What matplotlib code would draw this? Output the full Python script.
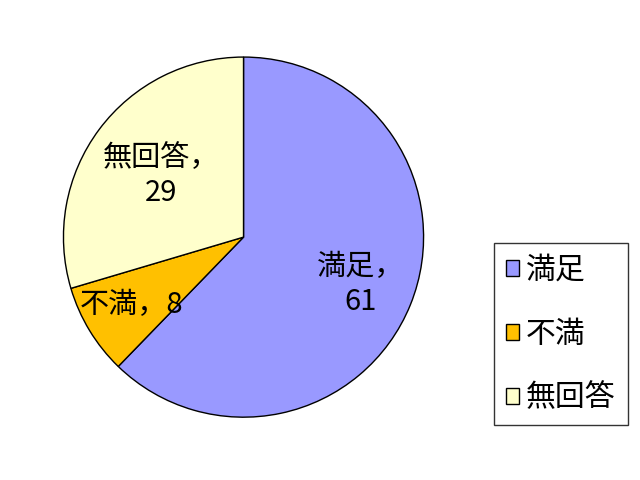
import numpy as np
import matplotlib
matplotlib.use('Agg')
import matplotlib.pyplot as plt

plt.rcParams['font.family'] = ['Noto Sans CJK JP', 'DejaVu Sans']

labels = ['満足', '不満', '無回答']
values = [61, 8, 29]
colors = ['#9999FF', '#FFC000', '#FFFFCC']
# data label text and radial distance (fraction of radius)
label_texts = ['満足，\n61', '不満，8', '無回答，\n29']
label_dist = [0.70, 0.73, 0.57]

fig = plt.figure(figsize=(6.4, 4.8), dpi=100)
ax = fig.add_axes([0.0977, 0.129, 0.5656, 0.754])

wedges, _ = ax.pie(values, colors=colors, startangle=90, counterclock=False,
                   wedgeprops=dict(edgecolor='black', linewidth=1.0))
ax.set_xlim(-1.005, 1.005)
ax.set_ylim(-1.005, 1.005)
ax.set_aspect('equal')

for w, txt, d in zip(wedges, label_texts, label_dist):
    ang = np.deg2rad((w.theta1 + w.theta2) / 2)
    ax.text(d * np.cos(ang), d * np.sin(ang), txt, ha='center', va='center',
            fontsize=21, linespacing=1.2)

leg = fig.legend(wedges, labels, loc='upper left', bbox_to_anchor=(0.772, 0.494),
                 fontsize=21.5, frameon=True, fancybox=False, edgecolor='black',
                 handlelength=0.45, handleheight=0.45, handletextpad=0.22,
                 labelspacing=1.1, borderpad=0.4, borderaxespad=0)
leg.get_frame().set_linewidth(1.0)

fig.savefig('out.png', dpi=100)
